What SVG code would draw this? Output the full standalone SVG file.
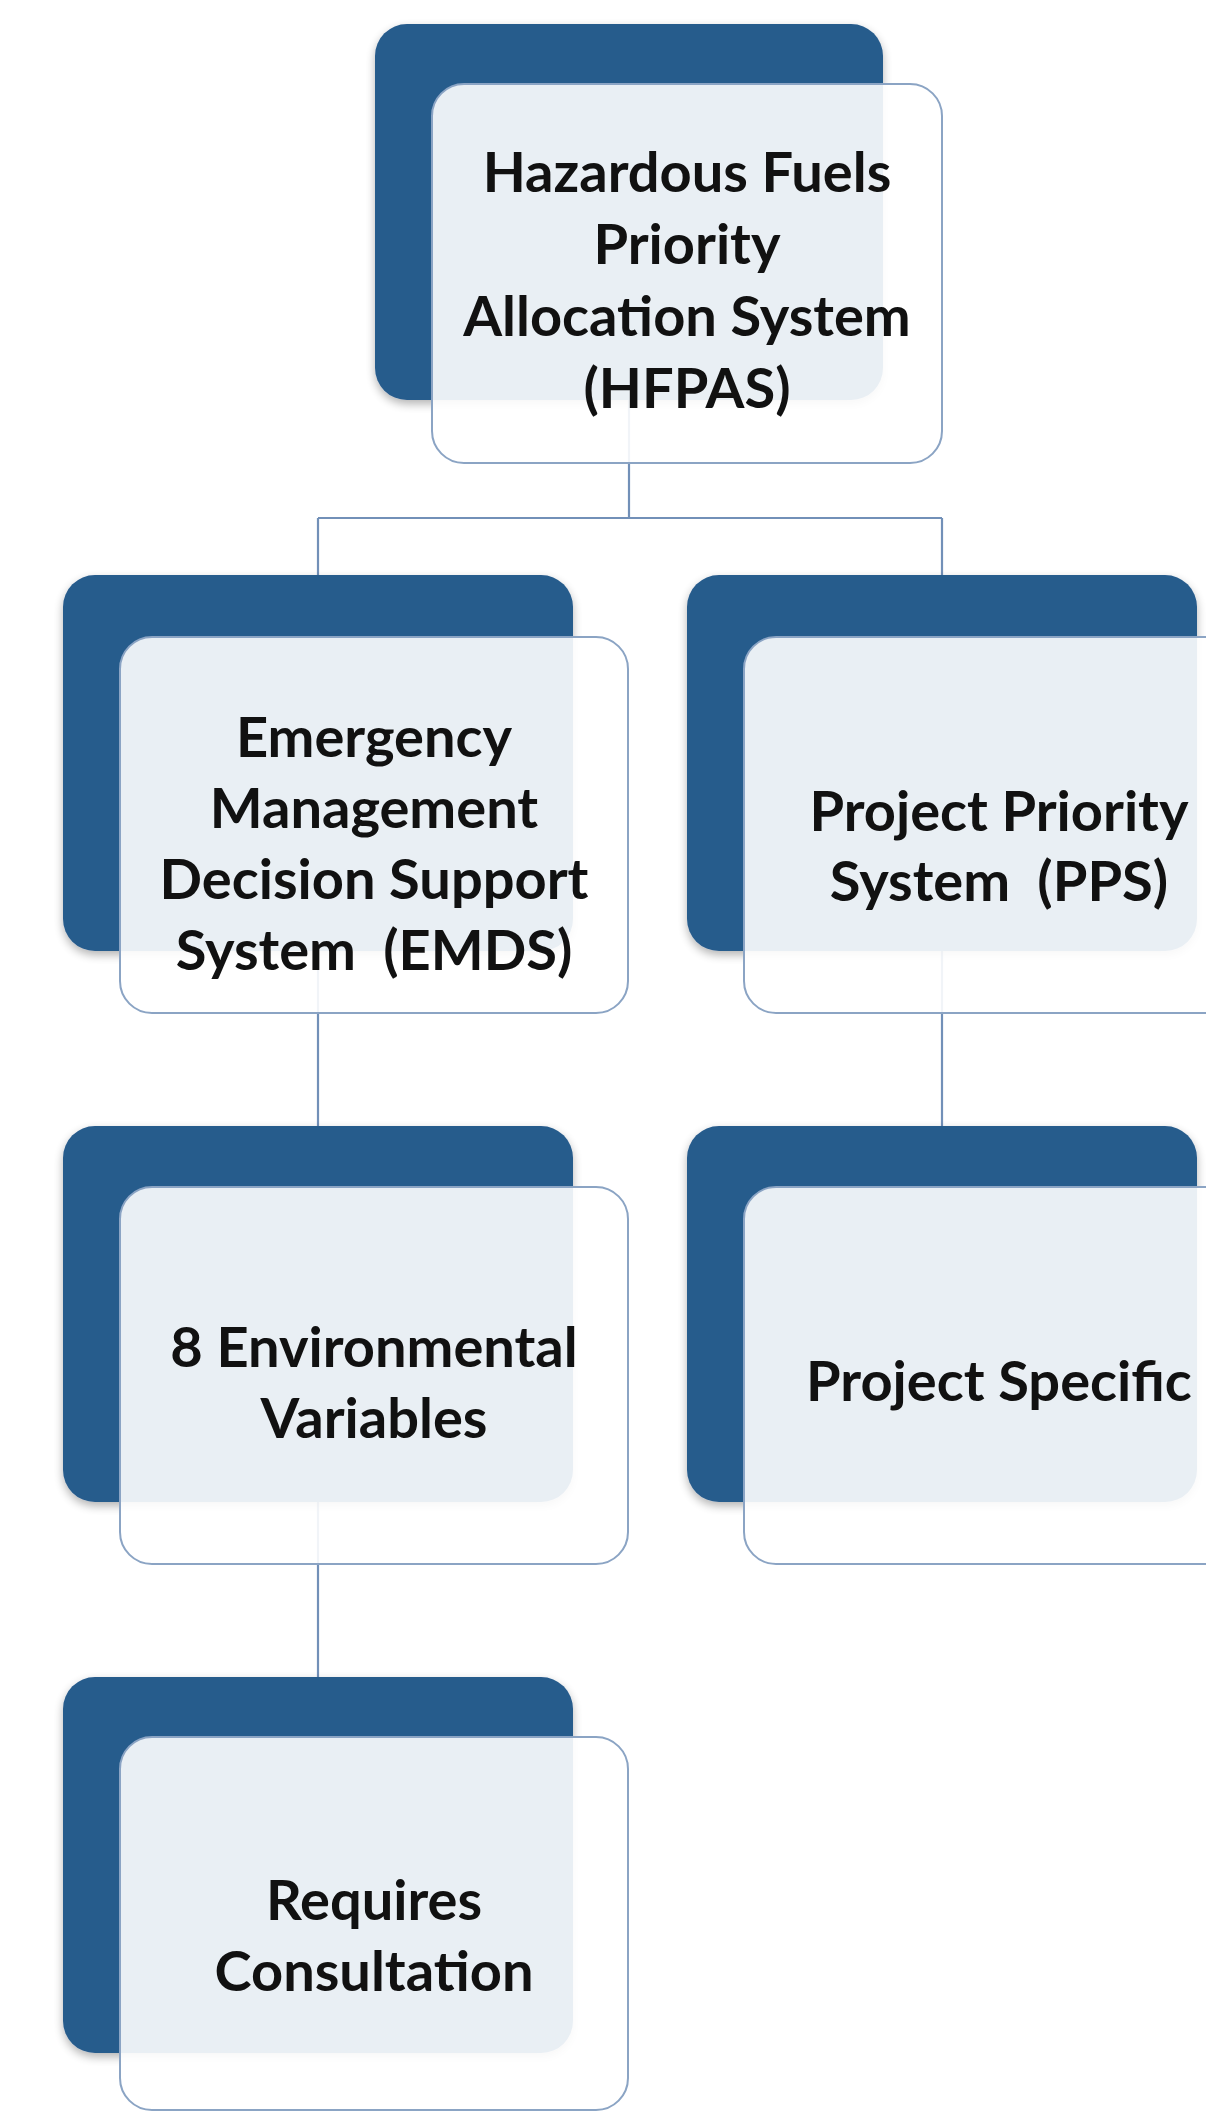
<svg xmlns="http://www.w3.org/2000/svg" width="1206" height="2113" viewBox="0 0 1206 2113">
  <defs>
    <filter id="soft" x="-10%" y="-10%" width="120%" height="125%">
      <feGaussianBlur in="SourceAlpha" stdDeviation="5"/>
      <feOffset dx="0" dy="4" result="b"/>
      <feComponentTransfer><feFuncA type="linear" slope="0.3"/></feComponentTransfer>
      <feMerge><feMergeNode/><feMergeNode in="SourceGraphic"/></feMerge>
    </filter>
    <style>
      .back { fill: #285b8c; filter: url(#soft); }
      .front { fill: #ffffff; fill-opacity: 0.9; stroke: #8ba4c4; stroke-width: 2; }
      .link { fill: none; stroke: #7290b8; stroke-width: 2.2; }
      .label { font-family: Lato, "Open Sans", "Liberation Sans", sans-serif; font-weight: 700; font-size: 56px; fill: #111111; text-anchor: middle; }
    </style>
  </defs>
  <rect width="1206" height="2113" fill="#ffffff"/>

  <!-- tree connectors, drawn beneath the translucent front cards -->
  <g id="connectors">
    <path class="link" d="M629 400 V518 M318 518 H942 M318 518 V575 M942 518 V575"/>
    <path class="link" d="M318 951 V1126"/>
    <path class="link" d="M942 951 V1126"/>
    <path class="link" d="M318 1502 V1677"/>
  </g>

  <g id="hfpas">
    <rect class="back" x="375" y="24" width="508" height="376" rx="32"/>
    <rect class="front" x="432" y="84" width="510" height="379" rx="32"/>
    <text class="label" x="687" y="192">Hazardous Fuels</text>
    <text class="label" x="687" y="264">Priority</text>
    <text class="label" x="687" y="336">Allocation System</text>
    <text class="label" x="687" y="408">(HFPAS)</text>
  </g>

  <g id="emds">
    <rect class="back" x="63" y="575" width="510" height="376" rx="32"/>
    <rect class="front" x="120" y="637" width="508" height="376" rx="32"/>
    <text class="label" x="374" y="757">Emergency</text>
    <text class="label" x="374" y="828">Management</text>
    <text class="label" x="374" y="899">Decision Support</text>
    <text class="label" x="374" y="970" xml:space="preserve">System  (EMDS)</text>
  </g>

  <g id="pps">
    <rect class="back" x="687" y="575" width="510" height="376" rx="32"/>
    <rect class="front" x="744" y="637" width="510" height="376" rx="32"/>
    <text class="label" x="999" y="831">Project Priority</text>
    <text class="label" x="999" y="901" xml:space="preserve">System  (PPS)</text>
  </g>

  <g id="env-vars">
    <rect class="back" x="63" y="1126" width="510" height="376" rx="32"/>
    <rect class="front" x="120" y="1187" width="508" height="377" rx="32"/>
    <text class="label" x="374" y="1367">8 Environmental</text>
    <text class="label" x="374" y="1438">Variables</text>
  </g>

  <g id="project-specific">
    <rect class="back" x="687" y="1126" width="510" height="376" rx="32"/>
    <rect class="front" x="744" y="1187" width="510" height="377" rx="32"/>
    <text class="label" x="999" y="1401">Project Specific</text>
  </g>

  <g id="consultation">
    <rect class="back" x="63" y="1677" width="510" height="376" rx="32"/>
    <rect class="front" x="120" y="1737" width="508" height="373" rx="32"/>
    <text class="label" x="374" y="1920">Requires</text>
    <text class="label" x="374" y="1991">Consultation</text>
  </g>
</svg>
